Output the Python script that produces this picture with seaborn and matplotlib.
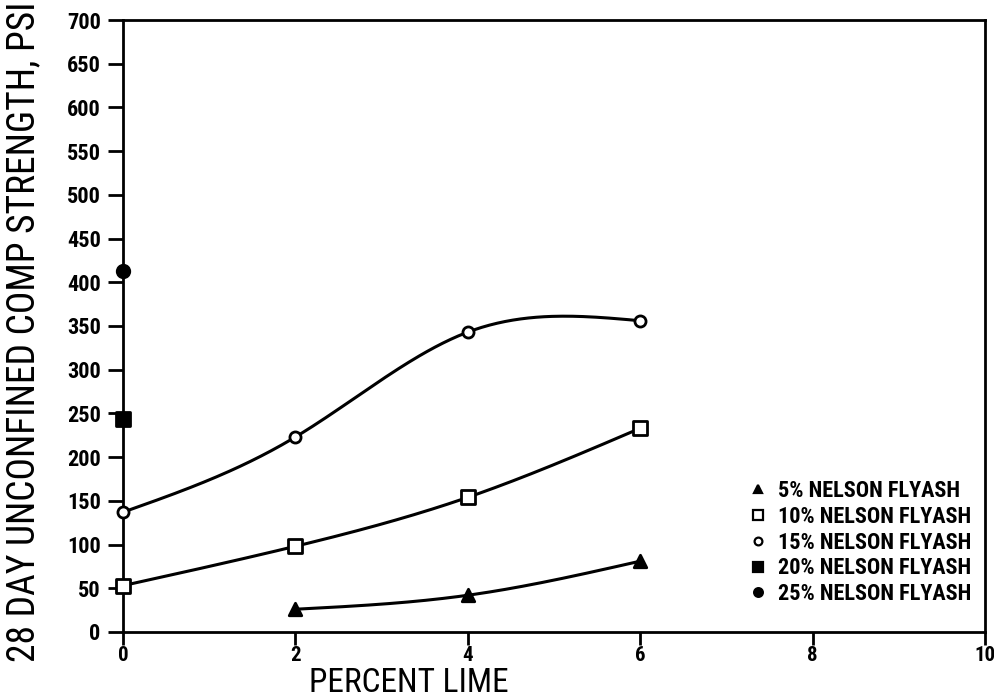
import numpy as np
import pandas as pd
import matplotlib
matplotlib.use("Agg")
import matplotlib.pyplot as plt
import seaborn as sns
from matplotlib.lines import Line2D

# ---- data ----
lime_5 = [2, 4, 6]
str_5 = [26, 42, 81]
lime_10 = [0, 2, 4, 6]
str_10 = [53, 98, 154, 233]
lime_15 = [0, 2, 4, 6]
str_15 = [137, 223, 343, 356]
lime_20 = [0]
str_20 = [244]
lime_25 = [0]
str_25 = [413]
labels = ["5% NELSON FLYASH", "10% NELSON FLYASH", "15% NELSON FLYASH",
          "20% NELSON FLYASH", "25% NELSON FLYASH"]
x_ticks = [0, 2, 4, 6, 8, 10]
y_ticks = list(range(0, 701, 50))


def natural_spline(x, y, n=200):
    x = np.asarray(x, float)
    y = np.asarray(y, float)
    k = len(x)
    h = np.diff(x)
    A = np.zeros((k, k))
    b = np.zeros(k)
    A[0, 0] = 1
    A[-1, -1] = 1
    for i in range(1, k - 1):
        A[i, i - 1] = h[i - 1]
        A[i, i] = 2 * (h[i - 1] + h[i])
        A[i, i + 1] = h[i]
        b[i] = 6 * ((y[i + 1] - y[i]) / h[i] - (y[i] - y[i - 1]) / h[i - 1])
    M = np.linalg.solve(A, b)
    xs = np.linspace(x[0], x[-1], n)
    ys = np.empty_like(xs)
    for j, xv in enumerate(xs):
        i = min(np.searchsorted(x, xv, side="right") - 1, k - 2)
        t1 = x[i + 1] - xv
        t0 = xv - x[i]
        ys[j] = (M[i] * t1 ** 3 / (6 * h[i]) + M[i + 1] * t0 ** 3 / (6 * h[i])
                 + (y[i] / h[i] - M[i] * h[i] / 6) * t1
                 + (y[i + 1] / h[i] - M[i + 1] * h[i] / 6) * t0)
    return xs, ys


sns.set_style("ticks")
plt.rcParams["font.family"] = ["Roboto Condensed", "Archivo Narrow", "PT Sans Narrow", "DejaVu Sans"]
plt.rcParams["text.color"] = "black"
plt.rcParams["axes.labelcolor"] = "black"
plt.rcParams["xtick.color"] = "black"
plt.rcParams["ytick.color"] = "black"

fig = plt.figure(figsize=(9.94, 6.97), dpi=100)
ax = fig.add_axes([0.1237, 0.0933, 0.8673, 0.878])

curves = []
for name, xs, ys in [("5", lime_5, str_5), ("10", lime_10, str_10), ("15", lime_15, str_15)]:
    sx, sy = natural_spline(xs, ys)
    curves.append(pd.DataFrame({"x": sx, "y": sy, "s": name}))
curve_df = pd.concat(curves)
for name, g in curve_df.groupby("s"):
    sns.lineplot(data=g, x="x", y="y", ax=ax, color="black", lw=2.2,
                 sort=False, legend=False, zorder=2)

specs = [
    (lime_5, str_5, "^", "black", 9),
    (lime_10, str_10, "s", "white", 10),
    (lime_15, str_15, "o", "white", 8),
    (lime_20, str_20, "s", "black", 10),
    (lime_25, str_25, "o", "black", 9),
]
handles = []
for (xs, ys, m, fc, sz), lab in zip(specs, labels):
    df = pd.DataFrame({"x": xs, "y": ys})
    sns.scatterplot(data=df, x="x", y="y", ax=ax, marker=m, s=sz ** 2,
                    facecolor=fc, edgecolor="black", linewidth=2, zorder=3,
                    legend=False, clip_on=False)
    handles.append(Line2D([], [], ls="none", marker=m, markersize=sz * 0.7,
                          markerfacecolor=fc, markeredgecolor="black",
                          markeredgewidth=1.6, label=lab))

ax.set_xlim(0, 10)
ax.set_ylim(0, 700)
ax.set_xticks(x_ticks)
ax.set_yticks(y_ticks)
ax.set_xticklabels([str(v) for v in x_ticks], fontsize=15, fontweight="bold")
ax.set_yticklabels([str(v) for v in y_ticks], fontsize=16, fontweight="bold")
ax.tick_params(axis="x", direction="out", length=9, width=2, color="black", pad=1)
ax.tick_params(axis="y", direction="out", length=11, width=2, color="black", pad=5)
for sp in ax.spines.values():
    sp.set_visible(True)
    sp.set_linewidth(2)
    sp.set_color("black")

ax.set_xlabel("PERCENT LIME", fontsize=24, va="center")
ax.xaxis.set_label_coords(0.332, -0.083)
ax.set_ylabel("28 DAY UNCONFINED COMP STRENGTH, PSI", fontsize=27)
ax.yaxis.set_label_coords(-0.094, 0.49)

leg = ax.legend(handles=handles, loc="lower right", bbox_to_anchor=(1.0, 0.022),
                borderaxespad=0.2, frameon=False, handlelength=0.8, handletextpad=0.5,
                labelspacing=0.17, prop={"size": 16, "weight": "bold"})

fig.savefig("out.png", dpi=100)
